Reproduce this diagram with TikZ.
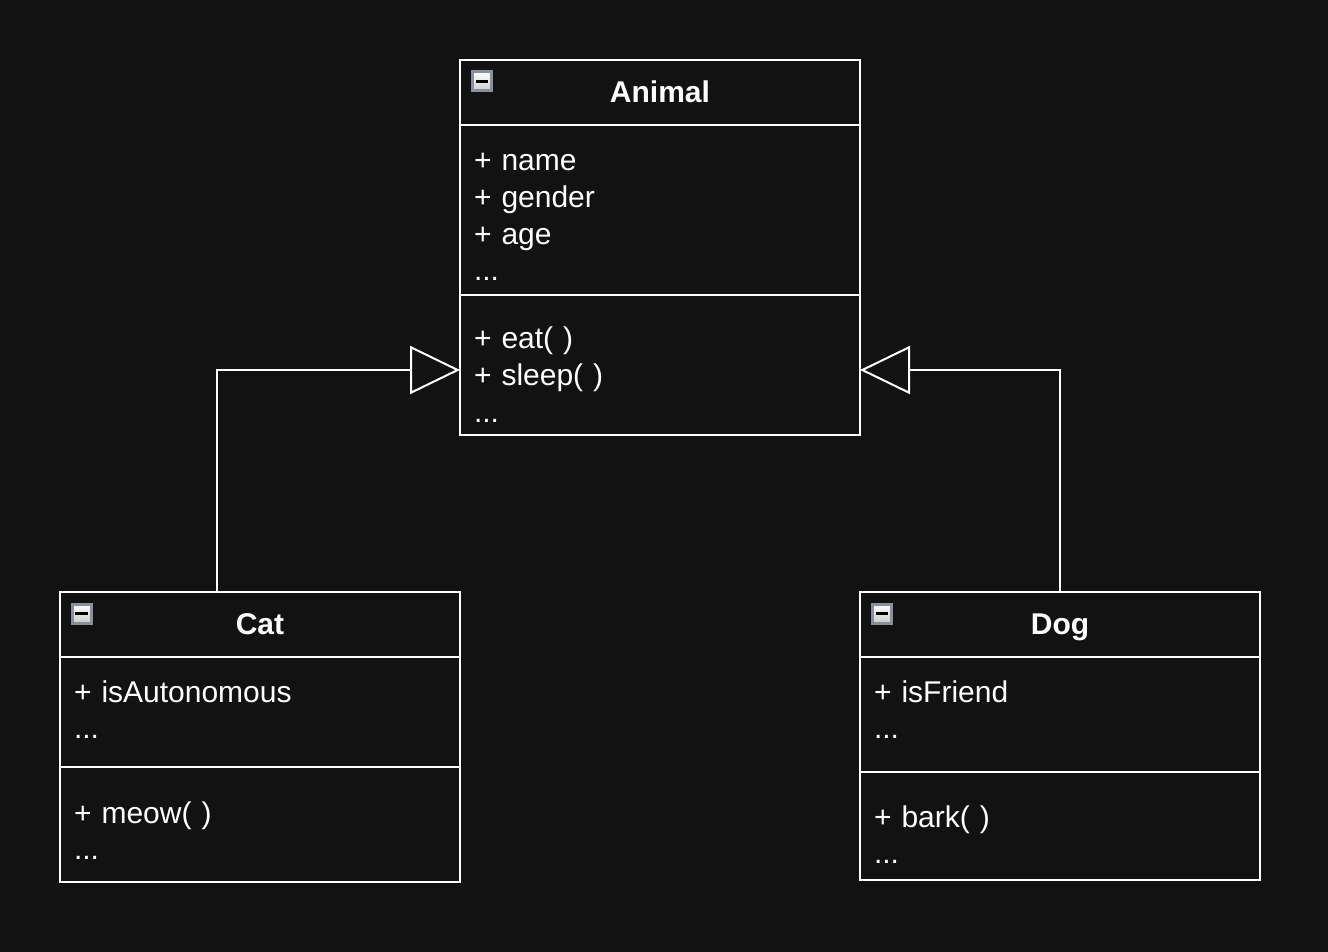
\documentclass[tikz,border=0pt]{standalone}
\usepackage{fontspec}
\setmainfont{Liberation Sans}
\usetikzlibrary{arrows.meta,positioning}
\definecolor{bgdark}{HTML}{121212}
\definecolor{iconrim}{HTML}{8A8F9C}
\begin{document}
\begin{tikzpicture}[x=0.5pt, y=-0.5pt, line join=miter, text=white,
	font=\fontsize{15}{18.3}\selectfont,
	classhead/.style={draw=white, line width=1pt, minimum width=200pt, minimum height=32.5pt, inner sep=0pt, outer sep=0pt, anchor=north west, text height=10pt, text depth=0pt, font=\fontsize{15}{18.3}\selectfont\bfseries},
	classpart/.style={draw=white, line width=1pt, minimum width=200pt, text width=186pt, inner xsep=7pt, inner ysep=0pt, outer sep=0pt, align=left, below=0pt of #1},
	collapse/.style={draw=iconrim, line width=1.5pt, top color=white, bottom color=gray!40, minimum size=9.5pt, inner sep=0pt, outer sep=0pt, below right=6pt and 6pt of #1},
	inherit/.style={draw=white, line width=1pt, -{Triangle[open, length=25pt, width=24pt]}}]
	\def\bar{{\color{black}\rule{6pt}{1.7pt}}} % collapse mark
	\fill[bgdark] (0,0) rectangle (1328,952);
	% Animal
	\node[classhead] (animalHead) at (460,60) {Animal};
	\node[classpart=animalHead, text height=23pt, text depth=62pt] (animalAttr) {+ name\\+ gender\\+ age\\...};
	\node[classpart=animalAttr, text height=27pt, text depth=43pt] (animalOps) {+ eat( )\\+ sleep( )\\...};
	\node[collapse=animalHead.north west] (animalIcon) {\bar};
	% Cat
	\node[classhead] (catHead) at (60,592) {Cat};
	\node[classpart=catHead, text height=22.5pt, text depth=32.5pt] (catAttr) {+ isAutonomous\\...};
	\node[classpart=catAttr, text height=28pt, text depth=29.5pt] (catOps) {+ meow( )\\...};
	\node[collapse=catHead.north west] (catIcon) {\bar};
	% Dog
	\node[classhead] (dogHead) at (860,592) {Dog};
	\node[classpart=dogHead, text height=22.5pt, text depth=35pt] (dogAttr) {+ isFriend\\...};
	\node[classpart=dogAttr, text height=27.5pt, text depth=26.5pt] (dogOps) {+ bark( )\\...};
	\node[collapse=dogHead.north west] (dogIcon) {\bar};
	% generalisation
	\draw[inherit] ([xshift=-21.5pt]catHead.north) |- ([yshift=-2.5pt]animalOps.west);
	\draw[inherit] (dogHead.north) |- ([yshift=-2.5pt]animalOps.east);
\end{tikzpicture}
\end{document}
